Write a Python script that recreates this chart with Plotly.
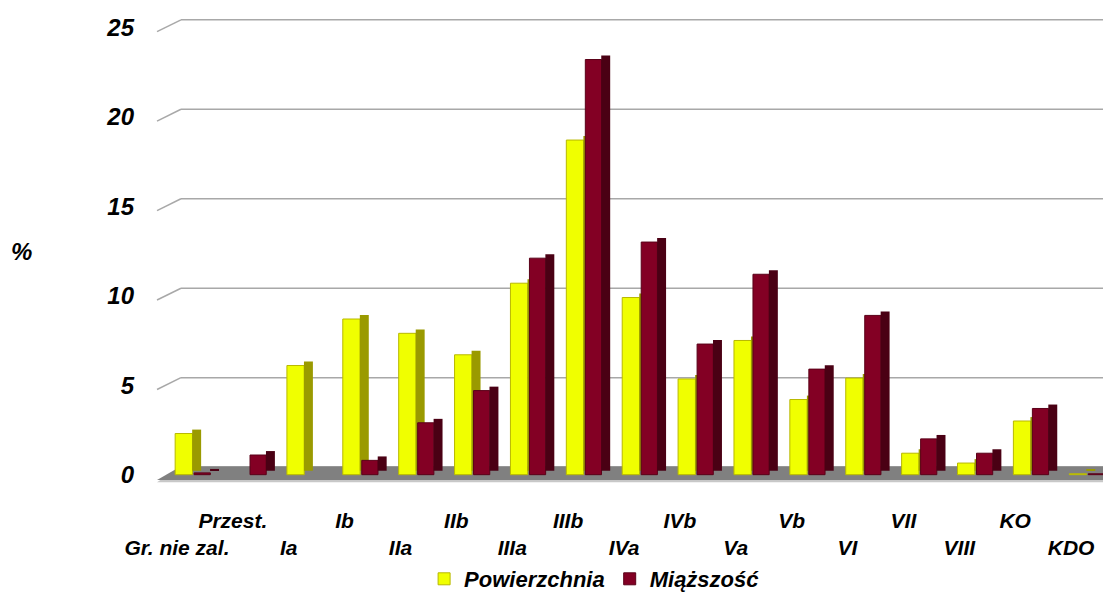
import plotly.graph_objects as go

# ---- data ----
categories = ["Gr. nie zal.", "Przest.", "Ia", "Ib", "IIa", "IIb", "IIIa", "IIIb",
              "IVa", "IVb", "Va", "Vb", "VI", "VII", "VIII", "KO", "KDO"]
powierzchnia = [2.3, 0.0, 6.1, 8.7, 7.9, 6.7, 10.7, 18.7,
                9.9, 5.35, 7.5, 4.2, 5.4, 1.2, 0.65, 3.0, 0.05]
miazszosc = [0.1, 1.1, 0.0, 0.8, 2.9, 4.7, 12.1, 23.2,
             13.0, 7.3, 11.2, 5.9, 8.9, 2.0, 1.2, 3.7, 0.05]
y_ticks = [0, 5, 10, 15, 20, 25]
series_names = ["Powierzchnia", "Miąższość"]

# staggered category labels (every other one on a second row)
tick_text = [("<br>" + c) if i % 2 == 0 else c for i, c in enumerate(categories)]

FONT = "Liberation Sans, Arial, sans-serif"
YEL, YEL_SIDE, YEL_LINE = "#F0FF00", "#9A9A00", "#B8B800"
RED, RED_SIDE, RED_LINE = "#830024", "#4A0014", "#5A0018"


def edge_widths(values):
    # no outline on empty (zero) bars
    return [1 if v > 0 else 0 for v in values]


fig = go.Figure()
# yellow front faces
fig.add_trace(go.Bar(x=categories, y=powierzchnia, name=series_names[0],
                     offset=-0.39, width=0.31,
                     marker=dict(color=YEL, line=dict(color=YEL_LINE,
                                                      width=edge_widths(powierzchnia)))))
# yellow side faces
fig.add_trace(go.Bar(x=categories, y=powierzchnia, base=0.22, showlegend=False,
                     offset=-0.085, width=0.16, hoverinfo="skip",
                     marker=dict(color=YEL_SIDE, line=dict(width=0))))
# red front faces
fig.add_trace(go.Bar(x=categories, y=miazszosc, name=series_names[1],
                     offset=-0.05, width=0.29,
                     marker=dict(color=RED, line=dict(color=RED_LINE,
                                                      width=edge_widths(miazszosc)))))
# red side faces
fig.add_trace(go.Bar(x=categories, y=miazszosc, base=0.22, showlegend=False,
                     offset=0.235, width=0.16, hoverinfo="skip",
                     marker=dict(color=RED_SIDE, line=dict(width=0))))

shapes = []
# floor of the 3D plot area
shapes.append(dict(type="path", xref="paper", yref="y", layer="below",
                   path="M -0.0126,-0.42 L 0.0126,0.47 L 1.0,0.47 L 0.988,-0.42 Z",
                   fillcolor="#C8C8C8", line=dict(width=0)))
shapes.append(dict(type="path", xref="paper", yref="y", layer="below",
                   path="M -0.0126,-0.30 L 0.0126,0.47 L 1.0,0.47 L 0.988,-0.30 Z",
                   fillcolor="#808080", line=dict(width=0)))
# back-wall gridlines with their left-side stubs
for v in y_ticks[1:]:
    shapes.append(dict(type="line", xref="paper", yref="y", layer="below",
                       x0=-0.0126, y0=v - 0.24, x1=0.0126, y1=v + 0.42,
                       line=dict(color="#A8A8A8", width=1.5)))
    shapes.append(dict(type="line", xref="paper", yref="y", layer="below",
                       x0=0.0126, y0=v + 0.42, x1=1.0, y1=v + 0.42,
                       line=dict(color="#A8A8A8", width=1.5)))

fig.update_layout(
    width=1111, height=592,
    margin=dict(l=161, r=0, t=5, b=103),
    paper_bgcolor="white", plot_bgcolor="white",
    barmode="overlay",
    shapes=shapes,
    font=dict(family=FONT, size=21, color="black", weight="bold", style="italic"),
    xaxis=dict(type="category", tickvals=categories, ticktext=tick_text,
               tickangle=0,
               showgrid=False, zeroline=False, showline=False, ticks="",
               ticklabelstandoff=17, ticklabelshift=-20,
               tickfont=dict(family=FONT, size=21, weight="bold", style="italic")),
    yaxis=dict(range=[-0.8, 25.8], tickvals=y_ticks, showgrid=False,
               zeroline=False, showline=False, ticks="",
               ticklabelstandoff=34,
               tickfont=dict(family=FONT, size=24, weight="bold", style="italic")),
    legend=dict(orientation="h", x=0.448, xanchor="center", y=-0.19,
                yanchor="middle", font=dict(family=FONT, size=22, weight="bold",
                                             style="italic"),
                bgcolor="rgba(0,0,0,0)"),
    annotations=[dict(text="%", xref="paper", yref="paper", x=-0.155, y=0.498,
                      showarrow=False, xanchor="center", yanchor="middle",
                      font=dict(family=FONT, size=24, weight="bold", style="italic"))],
)

fig.write_html("out.html")
